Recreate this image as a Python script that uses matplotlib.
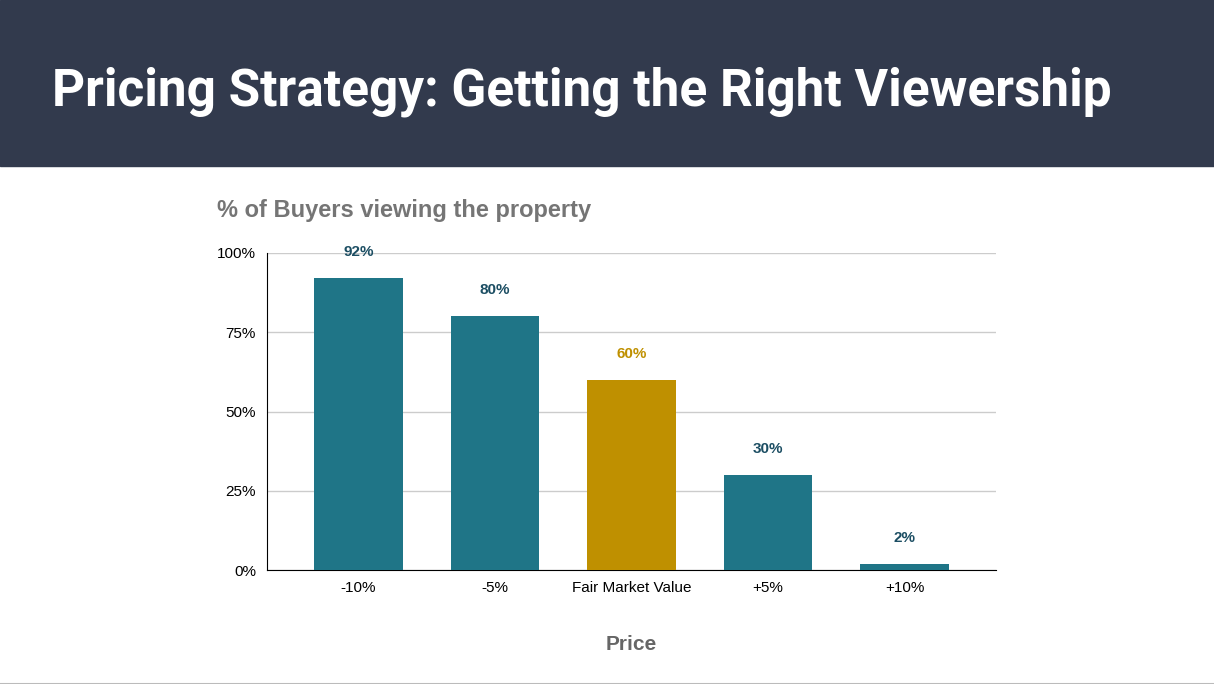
import matplotlib.pyplot as plt
from matplotlib.patches import Rectangle

categories = ["-10%", "-5%", "Fair Market Value", "+5%", "+10%"]
values = [92, 80, 60, 30, 2]
bar_colors = ["#1f7587", "#1f7587", "#bf9000", "#1f7587", "#1f7587"]
label_colors = ["#1c4e63", "#1c4e63", "#bf9000", "#1c4e63", "#1c4e63"]
yticks = [0, 25, 50, 75, 100]

W, H = 1214, 684
fig = plt.figure(figsize=(W / 100, H / 100), dpi=100)
fig.patch.set_facecolor("white")

# header band
fig.patches.append(Rectangle((0, 1 - 166 / H), 1, 166 / H, transform=fig.transFigure,
                             color="#323a4d", zorder=0))
fig.text(52 / W, 1 - 92 / H, "Pricing Strategy: Getting the Right Viewership",
         color="white", fontsize=37, fontweight="bold", family="Roboto", va="center")
# bottom rule
fig.add_artist(plt.Line2D([0, 1], [0.5 / H, 0.5 / H], color="#bbbbbb", lw=1.5,
                          transform=fig.transFigure))

ax = fig.add_axes([267 / W, 1 - 570 / H, (996 - 267) / W, (570 - 253) / H])
x = range(len(categories))
ax.bar(x, values, width=0.65, color=bar_colors, zorder=3)
for i, v in enumerate(values):
    ax.text(i, v + 6, f"{v}%", ha="center", va="bottom", fontsize=11,
            fontweight="bold", color=label_colors[i], family="Liberation Sans")
ax.set_xlim(-0.67, 4.67)
ax.set_ylim(0, 100)
ax.set_yticks(yticks)
ax.set_yticklabels([f"{t}%" for t in yticks], family="Liberation Sans", fontsize=11)
ax.set_xticks(list(x))
ax.set_xticklabels(categories, family="Liberation Sans", fontsize=11)
ax.tick_params(length=0, pad=8)
ax.grid(axis="y", color="#cccccc", lw=1, zorder=0)
for s in ["top", "right"]:
    ax.spines[s].set_visible(False)
ax.spines["left"].set_color("black")
ax.spines["bottom"].set_color("black")

fig.text(217 / W, 1 - 211 / H, "% of Buyers viewing the property", color="#757575",
         fontsize=17, fontweight="bold", family="Liberation Sans", va="center")
fig.text(631 / W, 1 - 644 / H, "Price", color="#666666", fontsize=15,
         fontweight="bold", family="Liberation Sans", ha="center", va="center")

fig.savefig("out.png", dpi=100)
